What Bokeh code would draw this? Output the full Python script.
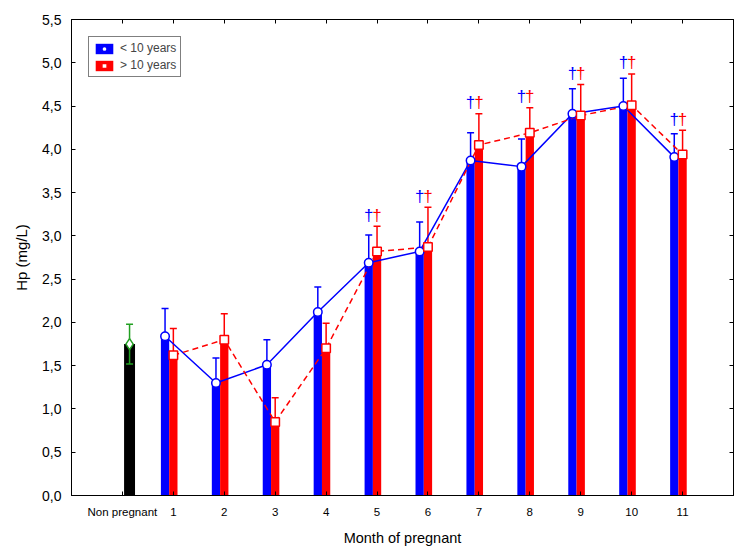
from bokeh.plotting import figure
from bokeh.models import (Range1d, FixedTicker, LinearAxis, CustomJSTickFormatter,
                          ColumnDataSource, Whisker, TeeHead, Legend, LegendItem)
from bokeh.embed import file_html
from bokeh.resources import INLINE
from bokeh.core.properties import value

# Category labels along the x axis (position 0 = non pregnant, 1..11 = month)
categories = ["Non pregnant", "1", "2", "3", "4", "5", "6", "7", "8", "9", "10", "11"]
months = [1, 2, 3, 4, 5, 6, 7, 8, 9, 10, 11]

# Haptoglobin (mg/L), mares younger than 10 years
young_mean = [1.84, 1.30, 1.51, 2.12, 2.69, 2.82, 3.87, 3.80, 4.41, 4.50, 3.91]
young_err = [0.32, 0.29, 0.29, 0.29, 0.32, 0.34, 0.32, 0.32, 0.29, 0.32, 0.27]

# Haptoglobin (mg/L), mares older than 10 years
old_mean = [1.62, 1.80, 0.85, 1.70, 2.82, 2.87, 4.05, 4.19, 4.39, 4.51, 3.94]
old_err = [0.31, 0.30, 0.28, 0.29, 0.29, 0.46, 0.36, 0.29, 0.36, 0.36, 0.28]

# Non pregnant reference group
nonpreg_mean = [1.75]
nonpreg_err = [0.23]

# Months flagged as significantly different from non pregnant
significant = [False, False, False, False, True, True, True, True, True, True, True]

BLUE = "#0000FF"
RED = "#FF0000"
GREEN = "#22A022"
FONT = "Liberation Sans"
BAR_W = 0.163
NP_W = 0.215
NP_SHIFT = 0.14

young_x = [m - BAR_W for m in months]
old_x = [float(m) for m in months]

young_src = ColumnDataSource(dict(
    x=young_x, top=young_mean,
    upper=[m + e for m, e in zip(young_mean, young_err)],
    lower=young_mean))
old_src = ColumnDataSource(dict(
    x=old_x, top=old_mean,
    upper=[m + e for m, e in zip(old_mean, old_err)],
    lower=old_mean))
np_src = ColumnDataSource(dict(
    x=[NP_SHIFT], top=nonpreg_mean,
    upper=[m + e for m, e in zip(nonpreg_mean, nonpreg_err)],
    lower=[m - e for m, e in zip(nonpreg_mean, nonpreg_err)]))

p = figure(width=747, height=558, output_backend="svg", toolbar_location=None,
           x_range=Range1d(-1, 12), y_range=Range1d(0, 5.5),
           min_border_left=71, min_border_right=14, min_border_top=19,
           min_border_bottom=63)
p.xgrid.visible = False
p.ygrid.visible = False
p.outline_line_color = "black"
p.outline_line_width = 1
p.background_fill_color = "white"
p.border_fill_color = "white"

# Bars
np_bar = p.vbar(x="x", top="top", width=NP_W, bottom=0, source=np_src,
                fill_color="black", line_color=None)
young_bars = p.vbar(x="x", top="top", width=BAR_W, bottom=0, source=young_src,
                    fill_color=BLUE, line_color=None)
old_bars = p.vbar(x="x", top="top", width=BAR_W, bottom=0, source=old_src,
                  fill_color=RED, line_color=None)

# Mean profiles
p.line(x="x", y="top", source=young_src, line_color=BLUE, line_width=1.5)
p.line(x="x", y="top", source=old_src, line_color=RED, line_width=1.5,
       line_dash="6 4")

# Error bars (upper SE only for the two age groups)
p.add_layout(Whisker(base="x", upper="upper", lower="lower", source=young_src,
                     dimension="height", line_color=BLUE, line_width=1.5,
                     upper_head=TeeHead(size=7, line_color=BLUE, line_width=1.5),
                     lower_head=None))
p.add_layout(Whisker(base="x", upper="upper", lower="lower", source=old_src,
                     dimension="height", line_color=RED, line_width=1.5,
                     upper_head=TeeHead(size=7, line_color=RED, line_width=1.5),
                     lower_head=None))

# Non pregnant: symmetric SE drawn over the black bar
p.segment(x0="x", y0="lower", x1="x", y1="upper", source=np_src,
          line_color=GREEN, line_width=1.5)
p.scatter(x="x", y="upper", source=np_src, marker="dash", size=7,
          line_color=GREEN, line_width=1.5)
p.scatter(x="x", y="lower", source=np_src, marker="dash", size=7,
          line_color=GREEN, line_width=1.5)

# Mean markers
young_pts = p.scatter(x="x", y="top", source=young_src, marker="circle", size=8.5,
                      fill_color="white", line_color=BLUE, line_width=1.5)
old_pts = p.scatter(x="x", y="top", source=old_src, marker="square", size=8.5,
                    fill_color="white", line_color=RED, line_width=1.5)
p.scatter(x="x", y="top", source=np_src, marker="diamond", size=11,
          fill_color="white", line_color=GREEN, line_width=1.5)

# Significance daggers above both error bars
dag_y, dag_yx, dag_ox = [], [], []
for i, flag in enumerate(significant):
    if flag:
        top = max(young_mean[i] + young_err[i], old_mean[i] + old_err[i])
        dag_y.append(top + 0.02)
        dag_yx.append(young_x[i])
        dag_ox.append(old_x[i])
p.text(x=dag_yx, y=dag_y, text=["\u2020"] * len(dag_y), text_color=BLUE,
       text_font=value(FONT), text_font_size="17px", text_align="center",
       text_baseline="bottom")
p.text(x=dag_ox, y=dag_y, text=["\u2020"] * len(dag_y), text_color=RED,
       text_font=value(FONT), text_font_size="17px", text_align="center",
       text_baseline="bottom")

# Axes
tick_labels = {i: lab for i, lab in enumerate(categories)}
xticks = list(range(len(categories)))
yticks = [i * 0.5 for i in range(12)]
comma_fmt = CustomJSTickFormatter(code="return tick.toFixed(1).replace('.', ',');")

xa = p.xaxis[0]
xa.ticker = FixedTicker(ticks=xticks)
xa.major_label_overrides = tick_labels
xa.axis_label = "Month of pregnant"
xa.axis_label_text_font = FONT
xa.axis_label_text_font_style = "normal"
xa.axis_label_text_font_size = "14.5px"
xa.axis_label_standoff = 9
xa.major_label_text_font = FONT
xa.major_label_text_font_size = "11.5px"
xa.major_label_standoff = 10

ya = p.yaxis[0]
ya.ticker = FixedTicker(ticks=yticks)
ya.formatter = comma_fmt
ya.axis_label = "Hp (mg/L)"
ya.axis_label_text_font = FONT
ya.axis_label_text_font_style = "normal"
ya.axis_label_text_font_size = "15px"
ya.axis_label_standoff = 9
ya.major_label_text_font = FONT
ya.major_label_text_font_size = "14px"
ya.major_label_standoff = 10

for ax in (xa, ya):
    ax.major_tick_in = 4
    ax.major_tick_out = 0
    ax.minor_tick_line_color = None
    ax.axis_line_color = "black"
    ax.major_tick_line_color = "black"
    ax.major_label_text_color = "black"
    ax.axis_label_text_color = "black"

# Tick marks on the top and right edges of the frame, without labels
blank_fmt = CustomJSTickFormatter(code="return '';")
top_ax = LinearAxis(ticker=FixedTicker(ticks=xticks), formatter=blank_fmt,
                    major_label_text_font_size="1px", major_label_text_color=None,
                    major_tick_in=4, major_tick_out=0, minor_tick_line_color=None,
                    major_label_standoff=0, axis_line_color="black")
p.add_layout(top_ax, "above")
right_ax = LinearAxis(ticker=FixedTicker(ticks=yticks), formatter=blank_fmt,
                      major_label_text_font_size="1px", major_label_text_color=None,
                      major_tick_in=4, major_tick_out=0, minor_tick_line_color=None,
                      major_label_standoff=0, axis_line_color="black")
p.add_layout(right_ax, "right")

# Legend
legend = Legend(items=[
    LegendItem(label="< 10 years", renderers=[young_bars, young_pts]),
    LegendItem(label="> 10 years", renderers=[old_bars, old_pts]),
], location="top_left")
legend.margin = 17
legend.padding = 4
legend.spacing = 3
legend.glyph_width = 22
legend.glyph_height = 13
legend.label_height = 13
legend.label_standoff = 5
legend.label_text_font = FONT
legend.label_text_font_size = "12px"
legend.border_line_color = "black"
legend.border_line_width = 1
legend.background_fill_color = "white"
legend.background_fill_alpha = 1
p.add_layout(legend)

open("out.html", "w").write(file_html(p, INLINE))
